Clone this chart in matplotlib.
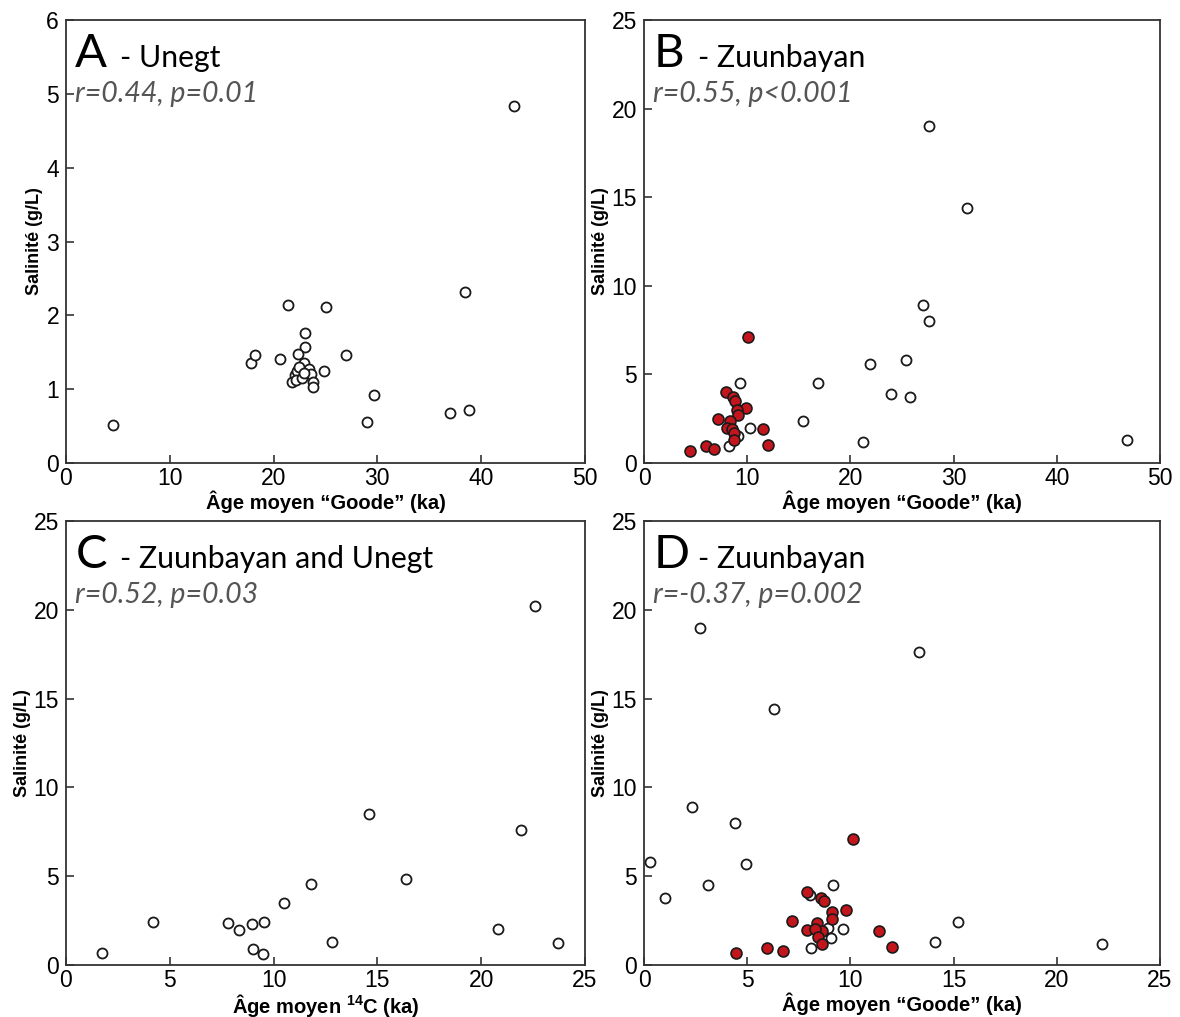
import matplotlib
matplotlib.use('Agg')
import matplotlib.pyplot as plt

plt.rcParams['font.family'] = ['Liberation Sans', 'DejaVu Sans']
plt.rcParams['mathtext.fontset'] = 'custom'
plt.rcParams['mathtext.rm'] = 'Liberation Sans'
plt.rcParams['mathtext.bf'] = 'Liberation Sans:bold'

TITLE_FONT = ['Lato', 'DejaVu Sans']
RED = '#c3161c'

# Panel A - Unegt (open circles)
a_x = [4.5, 17.8, 18.2, 20.6, 21.4, 25.1, 23.0, 23.0, 27.0, 22.4, 22.9, 24.9,
       23.4, 23.6, 23.8, 23.8, 21.8, 22.1, 22.3, 22.5, 22.2, 22.7, 22.9,
       29.7, 29.0, 37.0, 38.8, 38.4, 43.2]
a_y = [0.52, 1.36, 1.46, 1.41, 2.14, 2.12, 1.76, 1.57, 1.47, 1.48, 1.36, 1.24,
       1.28, 1.21, 1.10, 1.03, 1.10, 1.19, 1.25, 1.30, 1.12, 1.15, 1.22,
       0.92, 0.55, 0.68, 0.72, 2.32, 4.83]

# Panel B - Zuunbayan
b_open_x = [27.6, 31.3, 27.0, 27.6, 25.4, 21.9, 16.9, 23.9, 25.8, 15.4, 21.2,
            46.8, 9.3, 10.3, 9.1, 8.2, 8.5]
b_open_y = [19.0, 14.4, 8.9, 8.0, 5.8, 5.6, 4.5, 3.9, 3.7, 2.4, 1.2,
            1.3, 4.5, 2.0, 1.5, 0.95, 1.9]
b_red_x = [10.1, 7.9, 8.6, 8.8, 9.9, 9.0, 9.1, 7.2, 8.3, 8.0, 8.5, 11.5,
           8.7, 8.7, 4.5, 6.0, 6.75, 12.05]
b_red_y = [7.1, 4.0, 3.7, 3.5, 3.1, 3.0, 2.7, 2.5, 2.4, 2.0, 1.9, 1.9,
           1.7, 1.3, 0.7, 0.95, 0.8, 1.0]

# Panel C - Zuunbayan and Unegt (14C ages)
c_x = [1.75, 4.2, 7.8, 8.35, 8.95, 9.55, 9.0, 9.5, 10.5, 11.8, 12.8, 14.6,
       16.4, 20.8, 21.9, 22.6, 23.7]
c_y = [0.7, 2.4, 2.35, 2.0, 2.3, 2.45, 0.9, 0.6, 3.5, 4.55, 1.3, 8.5,
       4.85, 2.05, 7.6, 20.2, 1.25]

# Panel D - Zuunbayan
d_open_x = [2.7, 13.3, 6.3, 2.3, 4.4, 0.3, 4.95, 3.1, 1.0, 9.15, 15.2, 14.1,
            22.2, 8.05, 8.9, 9.65, 9.05, 8.1]
d_open_y = [19.0, 17.6, 14.4, 8.9, 8.0, 5.8, 5.7, 4.5, 3.75, 4.5, 2.4, 1.3,
            1.2, 3.95, 2.1, 2.05, 1.5, 0.95]
d_red_x = [10.1, 7.9, 8.55, 8.7, 9.8, 9.1, 9.1, 7.15, 8.4, 7.9, 8.6, 8.3,
           11.4, 8.45, 8.6, 4.45, 5.95, 6.75, 12.0]
d_red_y = [7.1, 4.1, 3.75, 3.6, 3.1, 3.0, 2.6, 2.5, 2.35, 2.0, 1.9, 2.05,
           1.9, 1.6, 1.2, 0.7, 0.95, 0.8, 1.0]

GOODE = 'Âge moyen “Goode” (ka)'
C14 = r'Âge moyen $\mathbf{^{14}}$C (ka)'

panels = [
    # rect, letter, name, stats, xlim, xticks, ylim, yticks, xlabel, open, red
    ([0.0559, 0.5447, 0.4398, 0.4356], 'A', 'Unegt', 'r=0.44, p=0.01',
     50, range(0, 51, 10), 6, range(0, 7), GOODE, (a_x, a_y), None),
    ([0.5458, 0.5447, 0.4373, 0.4356], 'B', 'Zuunbayan', 'r=0.55, p<0.001',
     50, range(0, 51, 10), 25, range(0, 26, 5), GOODE,
     (b_open_x, b_open_y), (b_red_x, b_red_y)),
    ([0.0559, 0.0511, 0.4398, 0.4366], 'C', 'Zuunbayan and Unegt', 'r=0.52, p=0.03',
     25, range(0, 26, 5), 25, range(0, 26, 5), C14, (c_x, c_y), None),
    ([0.5458, 0.0511, 0.4373, 0.4366], 'D', 'Zuunbayan', 'r=-0.37, p=0.002',
     25, range(0, 26, 5), 25, range(0, 26, 5), GOODE,
     (d_open_x, d_open_y), (d_red_x, d_red_y)),
]

fig = plt.figure(figsize=(11.8, 10.17), dpi=100)

for rect, letter, name, stats, xmax, xt, ymax, yt, xlab, opn, red in panels:
    ax = fig.add_axes(rect)
    ax.scatter(opn[0], opn[1], s=52, facecolors='white', edgecolors='#1a1a1a',
               linewidths=1.3, zorder=3)
    if red is not None:
        ax.scatter(red[0], red[1], s=62, facecolors=RED, edgecolors='#1a1a1a',
                   linewidths=1.2, zorder=4)
    ax.set_xlim(0, xmax)
    ax.set_ylim(0, ymax)
    ax.set_xticks(list(xt))
    ax.set_yticks(list(yt))
    ax.tick_params(direction='in', length=6, width=1.2, labelsize=16.5,
                   color='#333333')
    ax.tick_params(axis='x', pad=3)
    ax.tick_params(axis='y', pad=5)
    for sp in ax.spines.values():
        sp.set_color('#333333')
        sp.set_linewidth(1.3)
    ax.set_xlabel(xlab, fontsize=14.5, fontweight='bold', labelpad=0)
    ax.set_ylabel('Salinité (g/L)', fontsize=13, fontweight='bold', labelpad=2)

    ax.text(0.018, 0.895, letter, transform=ax.transAxes, fontsize=34,
            family=TITLE_FONT, va='baseline', ha='left')
    ax.text(0.105, 0.895, '- ' + name, transform=ax.transAxes, fontsize=21.8,
            family=TITLE_FONT, va='baseline', ha='left')
    ax.text(0.018, 0.815, stats, transform=ax.transAxes, fontsize=20.5,
            family=TITLE_FONT, style='italic', color='#555555',
            va='baseline', ha='left')

fig.savefig('out.png', dpi=100)
